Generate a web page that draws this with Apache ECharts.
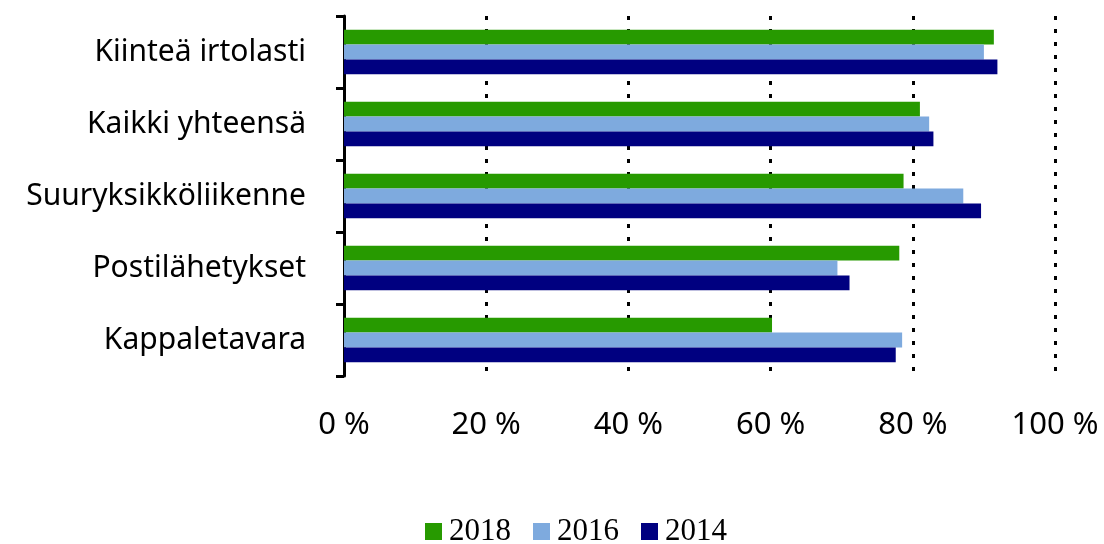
<!DOCTYPE html>
<html>
<head>
<meta charset="utf-8">
<script src="https://cdn.jsdelivr.net/npm/echarts@6/dist/echarts.min.js"></script>
<style>html,body{margin:0;padding:0;background:#fff}#c{width:1104px;height:544px}</style>
</head>
<body>
<div id="c"></div>
<script>
const categories = ["Kiinteä irtolasti", "Kaikki yhteensä", "Suuryksikköliikenne", "Postilähetykset", "Kappaletavara"];
const seriesNames = ["2018", "2016", "2014"];
const values2018 = [91.4, 81.0, 78.7, 78.1, 60.2];
const values2016 = [90.0, 82.3, 87.1, 69.4, 78.5];
const values2014 = [91.9, 82.9, 89.6, 71.1, 77.6];
const xTicks = [0, 20, 40, 60, 80, 100];
const colors = ["#279a00", "#7eaade", "#000080"];

const chart = echarts.init(document.getElementById('c'), null, {renderer: 'canvas'});
const data = [values2018, values2016, values2014];
chart.setOption({
  animation: false,
  backgroundColor: '#fff',
  grid: {left: 344, right: 49, top: 16, bottom: 168, containLabel: false},
  legend: {
    top: 511, left: 420,
    itemWidth: 17, itemHeight: 17, itemGap: 22,
    icon: 'rect',
    textStyle: {fontFamily: 'Liberation Serif', fontSize: 31, color: '#000', padding: [0, 0, 0, 2]},
    data: seriesNames
  },
  xAxis: {
    type: 'value', min: xTicks[0], max: xTicks[xTicks.length - 1], interval: 20,
    axisLine: {show: false}, axisTick: {show: false},
    axisLabel: {formatter: v => v + ' %', fontFamily: 'Noto Sans', fontSize: 31, color: '#000', margin: 34},
    splitLine: {show: true, lineStyle: {color: '#000', width: 3, type: [4, 9]}}
  },
  yAxis: {
    type: 'category', data: categories, inverse: true,
    axisLine: {show: true, lineStyle: {color: '#000', width: 3}},
    axisTick: {show: true, length: 8, lineStyle: {color: '#000', width: 3}},
    axisLabel: {fontFamily: 'Noto Sans', fontSize: 30, color: '#000', margin: 38}
  },
  series: seriesNames.map((n, i) => ({
    name: n, type: 'bar', data: data[i],
    barGap: '0%', barCategoryGap: '38%',
    itemStyle: {color: colors[i]}
  }))
});
</script>
</body>
</html>
